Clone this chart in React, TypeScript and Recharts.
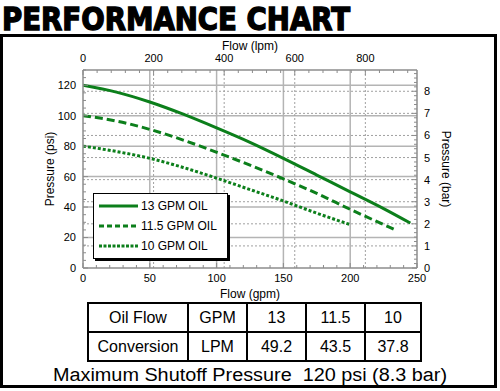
import { LineChart, Line, XAxis, YAxis, CartesianGrid, Legend } from "recharts";

const GREEN = "#0c7f1b";
const FONT = "'Liberation Sans', Arial, sans-serif";
const PSI_PER_BAR = 14.5038;
const LPM_PER_GPM = 3.78541;

// curves: flow (gpm) -> pressure (psi)
const flow13 = [0, 25, 50, 75, 100, 125, 150, 175, 200, 225, 245];
const psi13 = [120, 115.5, 109, 101, 92, 82.5, 72, 61, 50, 39, 29.5];
const flow115 = [0, 25, 50, 75, 100, 125, 150, 175, 200, 225, 235];
const psi115 = [100, 96.5, 91, 84, 76, 67.5, 58.5, 49, 38.5, 28.5, 24.5];
const flow10 = [0, 25, 50, 75, 100, 125, 150, 175, 200];
const psi10 = [80, 76.5, 72, 66, 59, 51.5, 44, 36, 28.5];

const gpmLabels = [0, 50, 100, 150, 200, 250];
const lpmLabels = [0, 200, 400, 600, 800];
const psiLabels = [0, 20, 40, 60, 80, 100, 120];
const barLabels = [0, 1, 2, 3, 4, 5, 6, 7, 8];

const tableFlow = ["Oil Flow", "GPM", "13", "11.5", "10"];
const tableConv = ["Conversion", "LPM", "49.2", "43.5", "37.8"];
const colWidths = [98, 57, 57, 57, 54];

// minor tick marks along the plot frame
const gpmTicks = Array.from({ length: 26 }, (_, i) => i * 10);
const lpmTicks = Array.from({ length: 24 }, (_, i) => i * 40);
const psiTicks = Array.from({ length: 27 }, (_, i) => i * 5);
const barTicks = Array.from({ length: 45 }, (_, i) => (i * 2) / 10);

const series = [
  { name: "13 GPM OIL", flow: flow13, psi: psi13, dash: undefined, legendDash: undefined },
  { name: "11.5 GPM OIL", flow: flow115, psi: psi115, dash: "8 4", legendDash: "5 3" },
  { name: "10 GPM OIL", flow: flow10, psi: psi10, dash: "3 2", legendDash: "3 1.5" },
];

const toPoints = (flow: number[], psi: number[]) =>
  flow.map((gpm, i) => ({ gpm, psi: psi[i] }));

// same 13 gpm curve in metric units, drawn invisibly so the lpm / bar axes get a domain
const toMetric = (flow: number[], psi: number[]) =>
  flow.map((gpm, i) => ({ lpm: gpm * LPM_PER_GPM, bar: psi[i] / PSI_PER_BAR }));

function EdgeTick(props: any) {
  const { x, y, payload, side, labels, gap } = props;
  const v = payload.value;
  const major = labels.some((l: number) => Math.abs(l - v) < 1e-6);
  const len = major ? 5 : 3;
  let line;
  let text;
  if (side === "bottom") {
    const e = y - gap;
    line = <line x1={x} x2={x} y1={e} y2={e - len} />;
    text = <text x={x} y={y} dy="0.72em" textAnchor="middle">{v}</text>;
  } else if (side === "top") {
    const e = y + gap;
    line = <line x1={x} x2={x} y1={e} y2={e + len} />;
    text = <text x={x} y={y} textAnchor="middle">{v}</text>;
  } else if (side === "left") {
    const e = x + gap;
    line = <line x1={e} x2={e + len} y1={y} y2={y} />;
    text = <text x={x} y={y} dy="0.36em" textAnchor="end">{v}</text>;
  } else {
    const e = x - gap;
    line = <line x1={e} x2={e - len} y1={y} y2={y} />;
    text = <text x={x} y={y} dy="0.36em" textAnchor="start">{v}</text>;
  }
  return (
    <g>
      <g stroke="#8c8c8c" strokeWidth={1}>{line}</g>
      {major && (
        <g fill="#000" fontSize={11} fontFamily={FONT}>
          {text}
        </g>
      )}
    </g>
  );
}

function LegendBox() {
  return (
    <div
      style={{
        width: 135,
        height: 66,
        border: "1.5px solid #000",
        boxShadow: "2px 2px 0 #000",
        background: "#fff",
        boxSizing: "border-box",
        paddingTop: 2,
        fontFamily: FONT,
      }}
    >
      {series.map((s) => (
        <div key={s.name} style={{ display: "flex", alignItems: "center", height: 20 }}>
          <svg width={44} height={6}>
            <line x1={5} x2={44} y1={3} y2={3} stroke={GREEN} strokeWidth={3} strokeDasharray={s.legendDash} />
          </svg>
          <span style={{ fontSize: 12, marginLeft: 3, color: "#000" }}>{s.name}</span>
        </div>
      ))}
    </div>
  );
}

const frameLine = { stroke: "#8c8c8c", strokeWidth: 1.5 };

export default function App() {
  return (
    <div style={{ position: "absolute", left: 0, top: 0, width: 500, height: 391, background: "#fff", fontFamily: FONT }}>
      <div
        style={{
          position: "absolute",
          left: 0,
          top: 34,
          width: 497,
          height: 354,
          border: "3px solid #000",
          boxSizing: "border-box",
        }}
      />
      <svg width={500} height={60} style={{ position: "absolute", left: 0, top: 0 }}>
        <text
          x={2}
          y={30}
          fontSize={32}
          fontWeight="bold"
          fontFamily="'DejaVu Sans Condensed', 'DejaVu Sans', sans-serif"
          textLength={348}
          lengthAdjust="spacingAndGlyphs"
          stroke="#000"
          strokeWidth={1.3}
        >
          PERFORMANCE CHART
        </text>
      </svg>
      <div style={{ position: "absolute", left: 0, top: 0 }}>
        <LineChart
          width={500}
          height={391}
          margin={{ top: 22, right: 25, bottom: 71, left: 17 }}
          style={{ fontFamily: FONT }}
        >
          <CartesianGrid
            xAxisId="gpm"
            yAxisId="psi"
            verticalValues={[50, 100, 150, 200]}
            horizontalValues={[20, 40, 60, 80, 100, 120]}
            stroke="#b4b4b4"
            strokeWidth={1.5}
          />
          <CartesianGrid
            xAxisId="lpm"
            yAxisId="bar"
            verticalValues={[200, 400, 600, 800]}
            horizontalValues={[1, 2, 3, 4, 5, 6, 7, 8]}
            stroke="#a0a0a0"
            strokeDasharray="2 2"
          />
          <XAxis
            xAxisId="gpm"
            type="number"
            dataKey="gpm"
            orientation="bottom"
            domain={[0, 250]}
            allowDataOverflow
            ticks={gpmTicks}
            interval={0}
            height={52}
            tickSize={0}
            tickMargin={6}
            tickLine={false}
            axisLine={frameLine}
            tick={(p: any) => <EdgeTick {...p} side="bottom" labels={gpmLabels} gap={6} />}
            label={{ value: "Flow (gpm)", position: "center", fontSize: 12, fill: "#000" }}
          />
          <XAxis
            xAxisId="lpm"
            type="number"
            dataKey="lpm"
            orientation="top"
            domain={[0, 250 * LPM_PER_GPM]}
            allowDataOverflow
            ticks={lpmTicks}
            interval={0}
            height={48}
            tickSize={0}
            tickMargin={8}
            tickLine={false}
            axisLine={frameLine}
            tick={(p: any) => <EdgeTick {...p} side="top" labels={lpmLabels} gap={8} />}
            label={{ value: "Flow (lpm)", position: "center", fontSize: 12, fill: "#000" }}
          />
          <YAxis
            yAxisId="psi"
            type="number"
            domain={[0, 130]}
            allowDataOverflow
            ticks={psiTicks}
            interval={0}
            width={66}
            tickSize={0}
            tickMargin={7}
            tickLine={false}
            axisLine={frameLine}
            tick={(p: any) => <EdgeTick {...p} side="left" labels={psiLabels} gap={7} />}
            label={{ value: "Pressure (psi)", angle: -90, position: "center", fontSize: 12, fill: "#000" }}
          />
          <YAxis
            yAxisId="bar"
            type="number"
            orientation="right"
            domain={[0, 130 / PSI_PER_BAR]}
            allowDataOverflow
            ticks={barTicks}
            interval={0}
            width={58}
            tickSize={0}
            tickMargin={7}
            tickLine={false}
            axisLine={frameLine}
            tick={(p: any) => <EdgeTick {...p} side="right" labels={barLabels} gap={7} />}
            label={{ value: "Pressure (bar)", angle: 90, position: "center", fontSize: 12, fill: "#000" }}
          />
          <Line
            xAxisId="lpm"
            yAxisId="bar"
            data={toMetric(flow13, psi13)}
            dataKey="bar"
            stroke="none"
            legendType="none"
            dot={false}
            activeDot={false}
            isAnimationActive={false}
          />
          {series.map((s) => (
            <Line
              key={s.name}
              xAxisId="gpm"
              yAxisId="psi"
              data={toPoints(s.flow, s.psi)}
              dataKey="psi"
              name={s.name}
              type="monotone"
              stroke={GREEN}
              strokeWidth={3}
              strokeDasharray={s.dash}
              dot={false}
              activeDot={false}
              isAnimationActive={false}
            />
          ))}
          <Legend
            layout="horizontal"
            verticalAlign="middle"
            align="center"
            content={() => <LegendBox />}
            wrapperStyle={{ left: 93, top: 193, width: 136, height: 67 }}
          />
        </LineChart>
      </div>
      <table
        style={{
          position: "absolute",
          left: 87,
          top: 302,
          borderCollapse: "collapse",
          fontSize: 16,
          fontFamily: FONT,
          tableLayout: "fixed",
        }}
      >
        <tbody>
          {[tableFlow, tableConv].map((row, r) => (
            <tr key={r} style={{ height: 29 }}>
              {row.map((cell, c) => (
                <td
                  key={c}
                  style={{
                    width: colWidths[c],
                    border: "2px solid #000",
                    padding: 0,
                    textAlign: "center",
                    lineHeight: "25px",
                  }}
                >
                  {cell}
                </td>
              ))}
            </tr>
          ))}
        </tbody>
      </table>
      <svg width={500} height={30} style={{ position: "absolute", left: 0, top: 361 }}>
        <text x={53} y={20} fontSize={18} fontFamily={FONT} textLength={394} lengthAdjust="spacingAndGlyphs" fill="#000">
          {"Maximum Shutoff Pressure\u00a0 120 psi (8.3 bar)"}
        </text>
      </svg>
    </div>
  );
}
